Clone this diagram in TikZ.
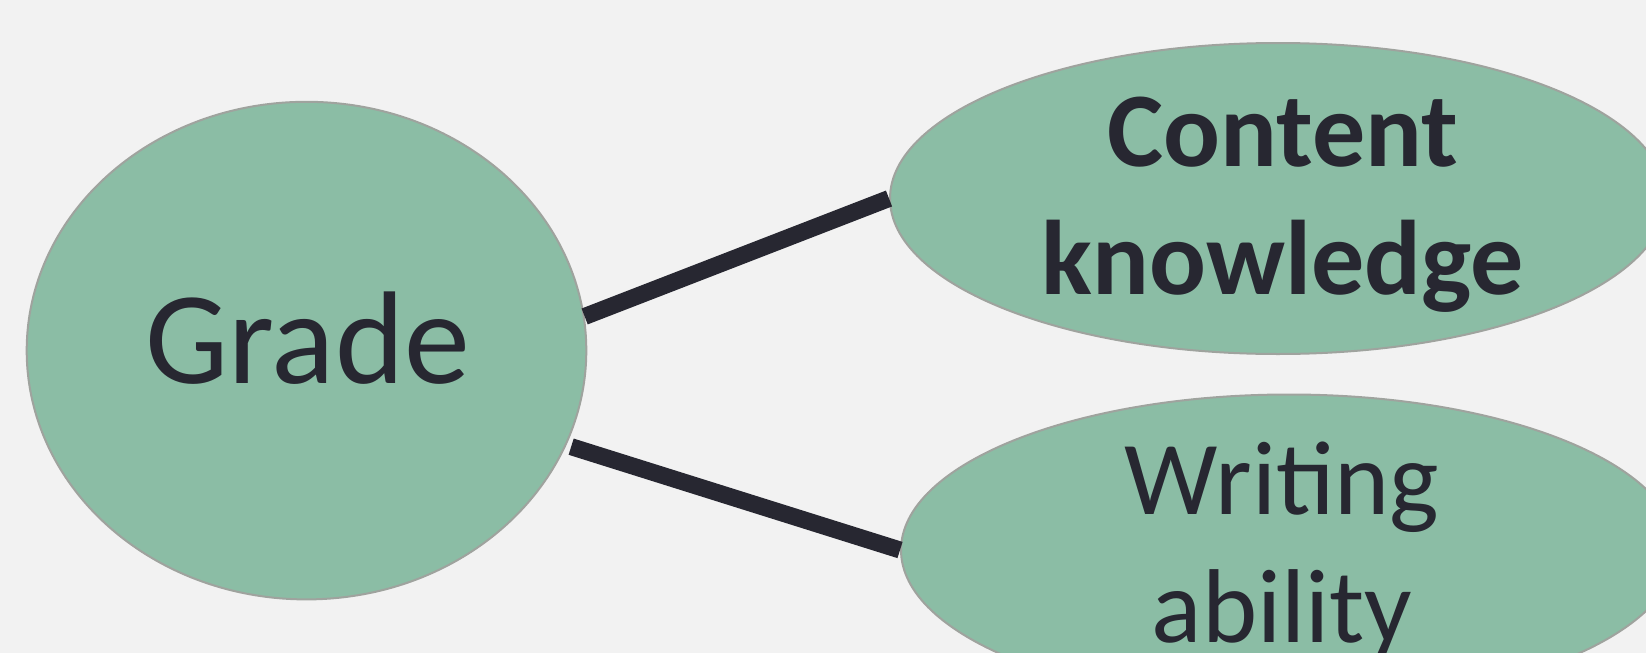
\documentclass[tikz,border=0pt]{standalone}
\usepackage{fontspec}
\setmainfont{Carlito}
\usetikzlibrary{shapes.geometric}
\definecolor{bg}{HTML}{F2F2F2}
\definecolor{fillg}{HTML}{8BBDA5}
\definecolor{edgeg}{HTML}{9FA39E}
\definecolor{ink}{HTML}{272731}
\begin{document}
\begin{tikzpicture}[x=1pt,y=-1pt,
  blob/.style={ellipse, fill=fillg, draw=edgeg, line width=2pt, inner sep=0pt},
  link/.style={draw=ink, line width=17pt},
  lbl/.style={anchor=base, text=ink, inner sep=0pt}]
\clip (0,0) rectangle (1646,653);
\fill[bg] (0,0) rectangle (1646,653);
\node[blob, minimum width=559.6pt, minimum height=497.6pt] (grade) at (306.5,350.6) {};
\node[blob, minimum width=776pt, minimum height=311pt] (content) at (1278,198.5) {};
\node[blob, minimum width=776pt, minimum height=311pt] (writing) at (1289,550) {};
\node[lbl, font=\fontsize{132}{158}\selectfont] (gradelbl) at (307.5,383) {Grade};
\node[lbl, font=\fontsize{106}{129}\selectfont\bfseries] (content1) at (1283,166) {Content};
\node[lbl, font=\fontsize{106}{129}\selectfont\bfseries] (content2) at (1283,294) {knowledge};
\node[lbl, font=\fontsize{105}{128}\selectfont] (writing1) at (1282,514) {Writing};
\node[lbl, font=\fontsize{105}{128}\selectfont] (writing2) at (1282,642) {ability};
\draw[link] (grade.7.9) -- (content.west);
\draw[link, shorten <=5pt] (grade.-20.5) -- (writing.west);
\end{tikzpicture}
\end{document}
